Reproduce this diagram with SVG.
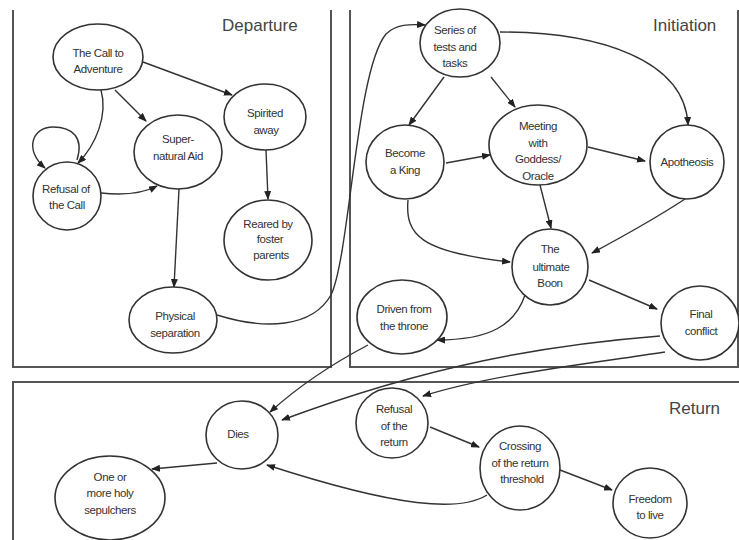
<svg xmlns="http://www.w3.org/2000/svg" width="739" height="540" viewBox="0 0 739 540">
<style>
.frame{fill:none;stroke:#555;stroke-width:2}
.node ellipse{fill:#fff;stroke:#333;stroke-width:1.6}
.node text{font-family:"Liberation Sans",Arial,sans-serif;font-size:11.5px;fill:#333;text-anchor:middle;letter-spacing:-0.4px}
.title{font-family:"Liberation Sans",Arial,sans-serif;font-size:17px;fill:#444}
.edge{fill:none;stroke:#333;stroke-width:1.4;marker-end:url(#ah)}
</style>
<defs>
<marker id="ah" markerUnits="userSpaceOnUse" markerWidth="9" markerHeight="7" refX="8" refY="3.5" orient="auto">
<path d="M0,0 L9,3.5 L0,7 z" fill="#222"/>
</marker>
</defs>
<rect width="739" height="540" fill="#fff"/>
<g id="frames">
<path class="frame" d="M13,10 V367 H331 V10"/>
<path class="frame" d="M350,10 V367 H738 V10"/>
<path class="frame" d="M13,545 V382 H745"/>
<text class="title" x="222" y="31">Departure</text>
<text class="title" x="653" y="31">Initiation</text>
<text class="title" x="669" y="414">Return</text>
</g>
<g id="connectors">
<path class="edge" d="M143,62 L232,95"/>
<path class="edge" d="M115,90 L146,121"/>
<path class="edge" d="M101,90 C108,115 96,145 78,163"/>
<path class="edge" d="M77,160 C84,138 73,127 53,127 C32,127 24,150 45,168"/>
<path class="edge" d="M101,193 C120,195 140,195 157,186"/>
<path class="edge" d="M179,189 L174,287"/>
<path class="edge" d="M266,150 L268,199"/>
<path class="edge" d="M217,315 C265,330 312,328 331,295 C350,255 356,70 386,34 C396,24 410,24 425,25"/>
<path class="edge" d="M444,77 L409,125"/>
<path class="edge" d="M491,77 L515,107"/>
<path class="edge" d="M500,32 C600,32 685,60 688,125"/>
<path class="edge" d="M446,163 L490,155"/>
<path class="edge" d="M588,147 L645,161"/>
<path class="edge" d="M540,185 L551,228"/>
<path class="edge" d="M408,200 C405,235 420,252 510,262"/>
<path class="edge" d="M685,199 C650,222 620,238 592,253"/>
<path class="edge" d="M589,280 L657,309"/>
<path class="edge" d="M525,295 C515,325 490,340 437,340"/>
<path class="edge" d="M368,345 C330,365 300,385 270,412"/>
<path class="edge" d="M660,336 C545,345 430,365 282,420"/>
<path class="edge" d="M665,352 C580,365 490,375 423,396"/>
<path class="edge" d="M430,427 L479,447"/>
<path class="edge" d="M560,470 L612,490"/>
<path class="edge" d="M487,495 C460,512 400,508 267,465"/>
<path class="edge" d="M217,463 L152,469"/>
</g>
<g id="call" class="node"><ellipse cx="98" cy="57" rx="45" ry="33"/><text x="98" y="57">The Call to</text><text x="98" y="73">Adventure</text></g>
<g id="spirited" class="node"><ellipse cx="265" cy="117" rx="41" ry="33"/><text x="265" y="117">Spirited</text><text x="266" y="134">away</text></g>
<g id="aid" class="node"><ellipse cx="178" cy="152" rx="44" ry="37"/><text x="178" y="143">Super-</text><text x="178" y="160">natural Aid</text></g>
<g id="refusal" class="node"><ellipse cx="67" cy="196" rx="34" ry="34"/><text x="66" y="193">Refusal of</text><text x="67" y="209">the Call</text></g>
<g id="reared" class="node"><ellipse cx="268" cy="240" rx="44" ry="40"/><text x="268" y="228">Reared by</text><text x="270" y="243">foster</text><text x="271" y="259">parents</text></g>
<g id="physical" class="node"><ellipse cx="173" cy="320" rx="44" ry="33"/><text x="175" y="320">Physical</text><text x="175" y="337">separation</text></g>
<g id="series" class="node"><ellipse cx="460" cy="43" rx="40" ry="34"/><text x="455" y="34">Series of</text><text x="455" y="51">tests and</text><text x="455" y="67">tasks</text></g>
<g id="king" class="node"><ellipse cx="405" cy="162" rx="39" ry="37"/><text x="405" y="157">Become</text><text x="405" y="174">a King</text></g>
<g id="meeting" class="node"><ellipse cx="538" cy="145" rx="49" ry="40"/><text x="538" y="130">Meeting</text><text x="538" y="147">with</text><text x="538" y="163">Goddess/</text><text x="538" y="180">Oracle</text></g>
<g id="apotheosis" class="node"><ellipse cx="687" cy="162" rx="37" ry="37"/><text x="687" y="166">Apotheosis</text></g>
<g id="boon" class="node"><ellipse cx="550" cy="267" rx="38" ry="38"/><text x="550" y="253">The</text><text x="551" y="271">ultimate</text><text x="550" y="287">Boon</text></g>
<g id="driven" class="node"><ellipse cx="402" cy="317" rx="45" ry="37"/><text x="404" y="313">Driven from</text><text x="404" y="330">the throne</text></g>
<g id="final" class="node"><ellipse cx="700" cy="323" rx="39" ry="37"/><text x="701" y="318">Final</text><text x="701" y="335">conflict</text></g>
<g id="dies" class="node"><ellipse cx="242" cy="435" rx="36" ry="34"/><text x="238" y="438">Dies</text></g>
<g id="sepulchers" class="node"><ellipse cx="110" cy="498" rx="55" ry="42"/><text x="110" y="481">One or</text><text x="110" y="497">more holy</text><text x="110" y="514">sepulchers</text></g>
<g id="refusal-return" class="node"><ellipse cx="392" cy="423" rx="36" ry="35"/><text x="394" y="413">Refusal</text><text x="394" y="430">of the</text><text x="394" y="446">return</text></g>
<g id="crossing" class="node"><ellipse cx="520" cy="468" rx="40" ry="42"/><text x="520" y="450">Crossing</text><text x="520" y="467">of the return</text><text x="522" y="483">threshold</text></g>
<g id="freedom" class="node"><ellipse cx="650" cy="503" rx="37" ry="35"/><text x="650" y="503">Freedom</text><text x="650" y="519">to live</text></g>
</svg>
